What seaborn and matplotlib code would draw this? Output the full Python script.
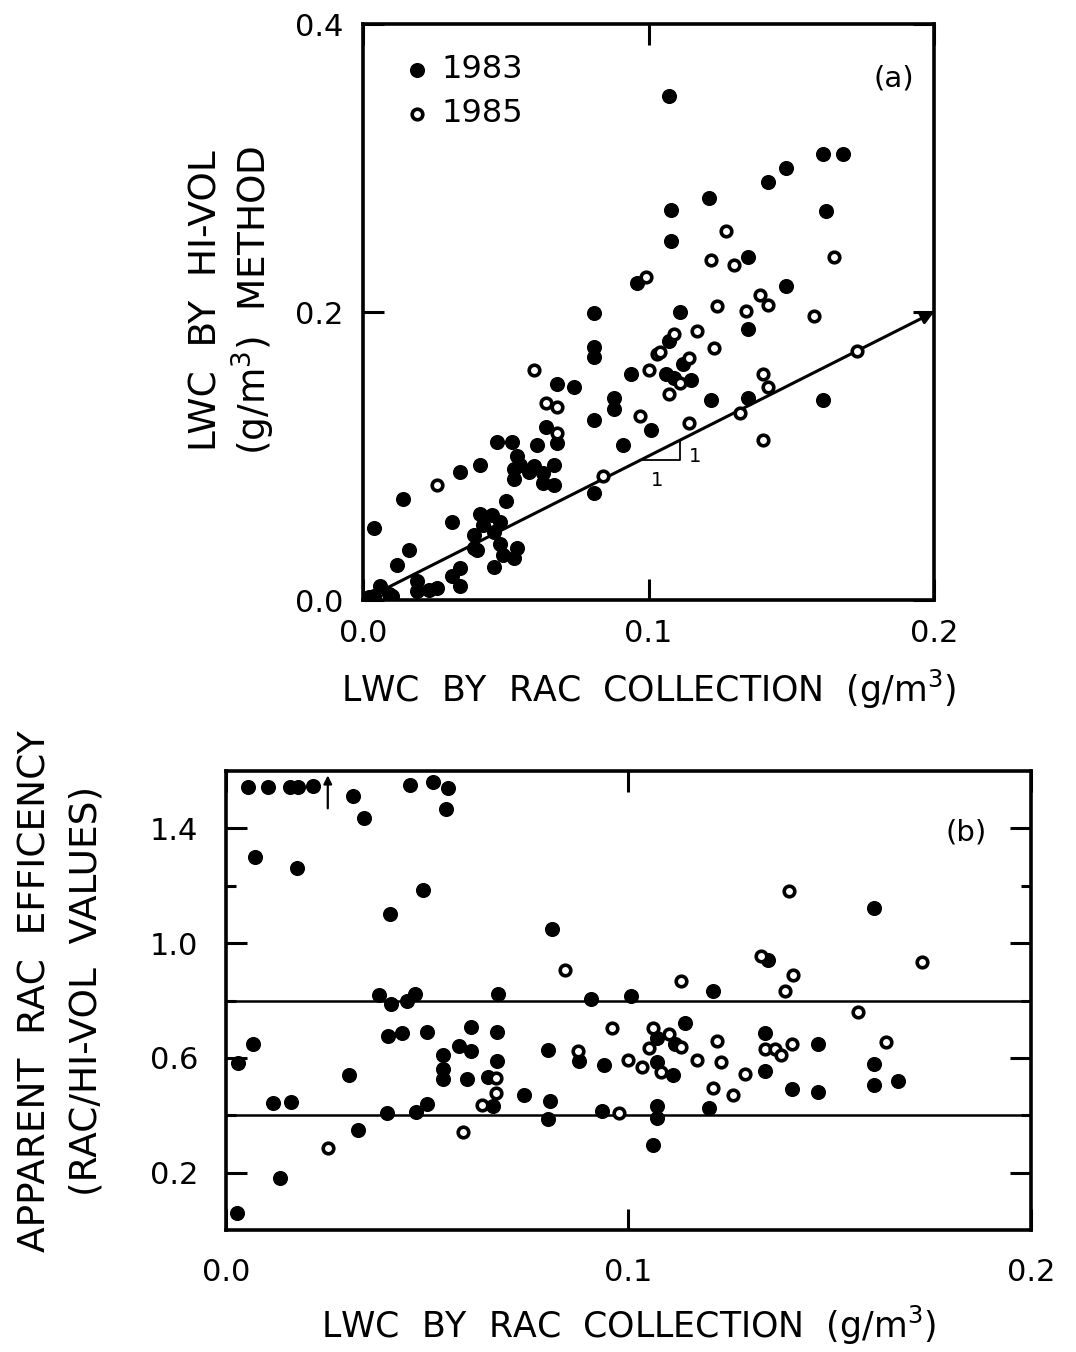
import matplotlib
matplotlib.use("Agg")
import matplotlib.pyplot as plt
import seaborn as sns
from matplotlib.ticker import FormatStrFormatter

# data
###############################################################################

# (a) LWC by RAC collection vs LWC by hi-vol method, g/m3
rac_a_1983 = [0.107, 0.161, 0.168, 0.148, 0.142, 0.121, 0.108, 0.162, 0.108, 0.135,
              0.148, 0.096, 0.081, 0.111, 0.081, 0.081, 0.068, 0.074, 0.088, 0.088,
              0.094, 0.101, 0.081, 0.091, 0.064, 0.068, 0.061, 0.047, 0.052, 0.054,
              0.053, 0.055, 0.053, 0.060, 0.063, 0.067, 0.067, 0.063, 0.058, 0.081,
              0.041, 0.034, 0.014, 0.050, 0.031, 0.041, 0.045, 0.048, 0.042, 0.039,
              0.039, 0.040, 0.046, 0.048, 0.054, 0.053, 0.046, 0.049, 0.004, 0.016,
              0.012, 0.034, 0.034, 0.031, 0.026, 0.023, 0.019, 0.019, 0.006, 0.004,
              0.009, 0.010, 0.002, 0.135, 0.107, 0.112, 0.106, 0.109, 0.115, 0.122,
              0.135, 0.161]
hivol_a_1983 = [0.350, 0.310, 0.310, 0.300, 0.290, 0.279, 0.271, 0.270, 0.249, 0.238,
                0.218, 0.220, 0.199, 0.200, 0.176, 0.169, 0.150, 0.148, 0.140, 0.133,
                0.157, 0.118, 0.125, 0.108, 0.120, 0.109, 0.108, 0.110, 0.110, 0.100,
                0.091, 0.094, 0.084, 0.093, 0.088, 0.094, 0.080, 0.081, 0.089, 0.074,
                0.094, 0.089, 0.070, 0.069, 0.054, 0.060, 0.059, 0.054, 0.052, 0.045,
                0.036, 0.035, 0.047, 0.039, 0.036, 0.029, 0.023, 0.031, 0.050, 0.035,
                0.024, 0.022, 0.010, 0.017, 0.008, 0.007, 0.006, 0.013, 0.010, 0.003,
                0.004, 0.003, 0.002, 0.188, 0.180, 0.164, 0.157, 0.154, 0.153, 0.139,
                0.140, 0.139]
rac_a_1985 = [0.099, 0.127, 0.122, 0.130, 0.165, 0.139, 0.124, 0.134, 0.142, 0.158,
              0.060, 0.064, 0.068, 0.100, 0.103, 0.097, 0.068, 0.084, 0.026, 0.117,
              0.109, 0.104, 0.123, 0.114, 0.111, 0.107, 0.132, 0.140, 0.142, 0.173,
              0.114, 0.140]
hivol_a_1985 = [0.224, 0.256, 0.236, 0.233, 0.238, 0.212, 0.204, 0.201, 0.205, 0.197,
                0.160, 0.137, 0.134, 0.160, 0.171, 0.128, 0.116, 0.086, 0.080, 0.187,
                0.185, 0.172, 0.175, 0.168, 0.151, 0.143, 0.130, 0.157, 0.148, 0.173,
                0.123, 0.111]
one_to_one = [0.0, 0.2]

# (b) apparent RAC efficiency (RAC / hi-vol)
rac_b_1983 = [0.0055, 0.0104, 0.0159, 0.018, 0.0216, 0.0316, 0.0343, 0.0457, 0.0514, 0.0552,
              0.0547, 0.0072, 0.0176, 0.0489, 0.0407, 0.003, 0.0067, 0.0117, 0.0161, 0.0306,
              0.0328, 0.0134, 0.0027, 0.0402, 0.0437, 0.0499, 0.040, 0.0472, 0.0499, 0.054,
              0.054, 0.054, 0.058, 0.061, 0.061, 0.060, 0.038, 0.041, 0.045, 0.047,
              0.081, 0.0676, 0.0907, 0.1006, 0.121, 0.0673, 0.0673, 0.065, 0.0663, 0.074,
              0.080, 0.0805, 0.080, 0.0877, 0.094, 0.0934, 0.114, 0.107, 0.1116, 0.107,
              0.111, 0.107, 0.107, 0.106, 0.120, 0.161, 0.1347, 0.134, 0.147, 0.134,
              0.1406, 0.147, 0.161, 0.161, 0.167]
eff_b_1983 = [1.544, 1.545, 1.546, 1.546, 1.547, 1.514, 1.436, 1.551, 1.562, 1.541,
              1.466, 1.301, 1.262, 1.185, 1.102, 0.583, 0.650, 0.443, 0.447, 0.540,
              0.350, 0.181, 0.060, 0.677, 0.688, 0.689, 0.409, 0.410, 0.438, 0.611,
              0.561, 0.527, 0.640, 0.625, 0.707, 0.526, 0.821, 0.787, 0.798, 0.822,
              1.051, 0.823, 0.805, 0.816, 0.832, 0.689, 0.590, 0.535, 0.434, 0.472,
              0.626, 0.451, 0.386, 0.590, 0.574, 0.416, 0.722, 0.670, 0.650, 0.585,
              0.539, 0.432, 0.391, 0.298, 0.426, 1.124, 0.941, 0.686, 0.649, 0.556,
              0.492, 0.482, 0.579, 0.507, 0.520]
rac_b_1985 = [0.0253, 0.059, 0.0842, 0.113, 0.067, 0.067, 0.0636, 0.0875, 0.0976, 0.096,
              0.106, 0.110, 0.113, 0.105, 0.100, 0.1034, 0.108, 0.117, 0.122, 0.123,
              0.121, 0.126, 0.129, 0.140, 0.133, 0.141, 0.173, 0.139, 0.157, 0.134,
              0.1364, 0.138, 0.1406, 0.164]
eff_b_1985 = [0.285, 0.343, 0.908, 0.868, 0.529, 0.478, 0.437, 0.624, 0.407, 0.703,
              0.704, 0.684, 0.637, 0.633, 0.594, 0.567, 0.552, 0.592, 0.658, 0.587,
              0.495, 0.472, 0.545, 1.182, 0.957, 0.889, 0.934, 0.832, 0.760, 0.631,
              0.632, 0.609, 0.647, 0.656]
band_limits = [0.4, 0.8]
offscale_x = 0.0253  # points above the top of panel (b)

# style
###############################################################################

sns.set_style("ticks")
plt.rcParams['font.family'] = ['DejaVu Sans']
plt.rcParams['mathtext.default'] = 'regular'
for key in ['text.color', 'axes.edgecolor', 'axes.labelcolor', 'xtick.color', 'ytick.color']:
    plt.rcParams[key] = 'black'

fig = plt.figure(figsize=(10.76, 13.52), dpi=100)
ax_a = fig.add_axes([0.3374, 0.5562, 0.5307, 0.4260])
ax_b = fig.add_axes([0.2100, 0.0902, 0.7481, 0.3395])

filled = dict(color='k', edgecolor='k', s=118, linewidth=0, zorder=3)
opened = dict(color='white', edgecolor='k', s=58, linewidth=2.6, zorder=4)

for ax in (ax_a, ax_b):
    for sp in ax.spines.values():
        sp.set_linewidth(2.6)
    ax.tick_params(which='both', direction='in', top=True, right=True,
                   width=2.2, labelsize=22, color='k')
    ax.tick_params(which='major', length=15)
    ax.tick_params(which='minor', length=7)
    ax.xaxis.set_major_formatter(FormatStrFormatter('%.1f'))
    ax.yaxis.set_major_formatter(FormatStrFormatter('%.1f'))

# (a)
###############################################################################

sns.scatterplot(x=rac_a_1983, y=hivol_a_1983, ax=ax_a, label='1983', **filled)
sns.scatterplot(x=rac_a_1985, y=hivol_a_1985, ax=ax_a, label='1985', **opened)
ax_a.annotate('', xy=(one_to_one[1], one_to_one[1]), xytext=(one_to_one[0], one_to_one[0]),
              arrowprops=dict(arrowstyle='-|>', lw=2.2, color='k', mutation_scale=18,
                              shrinkA=0, shrinkB=0), zorder=2)
x0, d = 0.097, 0.014
ax_a.plot([x0, x0 + d, x0 + d], [x0, x0, x0 + d], color='k', lw=1.3)
ax_a.text(x0 + d + 0.003, x0 + 0.003, '1', fontsize=14, ha='left', va='center')
ax_a.text(x0 + d / 2 - 0.001, x0 - 0.014, '1', fontsize=14, ha='center', va='center')

ax_a.set_xlim(0, 0.2)
ax_a.set_ylim(0, 0.4)
ax_a.set_xticks([0, 0.1, 0.2])
ax_a.set_yticks([0, 0.2, 0.4])
ax_a.tick_params(axis='x', pad=14)
ax_a.tick_params(axis='y', pad=14)
ax_a.text(0.93, 0.905, '(a)', transform=ax_a.transAxes, fontsize=21, ha='center', va='center')

leg = ax_a.legend(loc='upper left', bbox_to_anchor=(0.045, 0.97), frameon=False,
                  fontsize=23, handlelength=1.0, handletextpad=0.25, labelspacing=0.4,
                  borderaxespad=0)

ax_a.set_xlabel('LWC  BY  RAC  COLLECTION  (g/m$^3$)', fontsize=25, labelpad=14)
ax_a.set_ylabel('LWC  BY  HI-VOL\n(g/m$^3$)  METHOD', fontsize=27,
                ha='center', va='center', linespacing=1.15)
ax_a.yaxis.set_label_coords(-0.228, 0.52)

# (b)
###############################################################################

for lim in band_limits:
    ax_b.axhline(lim, color='k', lw=1.8, zorder=1)
sns.scatterplot(x=rac_b_1983, y=eff_b_1983, ax=ax_b, legend=False, **filled)
sns.scatterplot(x=rac_b_1985, y=eff_b_1985, ax=ax_b, legend=False, **opened)
ax_b.annotate('', xy=(offscale_x, 1.585), xytext=(offscale_x, 1.47),
              arrowprops=dict(arrowstyle='-|>', lw=1.6, color='k', mutation_scale=12,
                              shrinkA=0, shrinkB=0))

ax_b.set_xlim(0, 0.2)
ax_b.set_ylim(0, 1.6)
ax_b.set_xticks([0, 0.1, 0.2])
ax_b.set_yticks([0.2, 0.6, 1.0, 1.4])
ax_b.set_yticks([0.4, 0.8, 1.2], minor=True)
ax_b.tick_params(axis='x', pad=20)
ax_b.tick_params(axis='y', pad=20)
ax_b.text(0.92, 0.867, '(b)', transform=ax_b.transAxes, fontsize=21, ha='center', va='center')

ax_b.set_xlabel('LWC  BY  RAC  COLLECTION  (g/m$^3$)', fontsize=25, labelpad=12)
ax_b.set_ylabel('APPARENT  RAC  EFFICENCY\n(RAC/HI-VOL  VALUES)', fontsize=27,
                ha='center', va='center', linespacing=1.55)
ax_b.yaxis.set_label_coords(-0.205, 0.52)

plt.savefig('out.png', dpi=100)
